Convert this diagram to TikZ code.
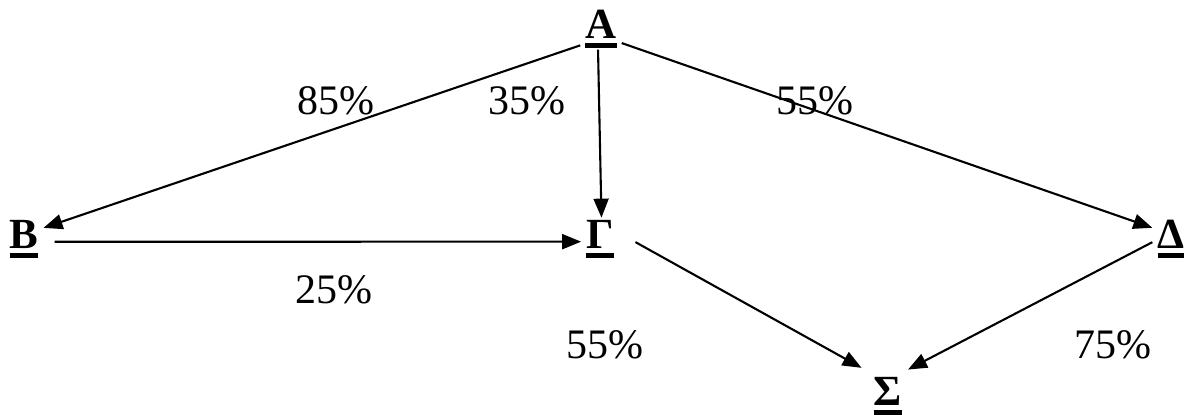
\documentclass[tikz,border=0pt]{standalone}
\usepackage{fontspec}
\setmainfont{Liberation Serif}
\usetikzlibrary{arrows.meta}
\newcommand{\ulvtx}[1]{\vtop{\hbox{#1}\kern5pt\hrule height 4.5pt}}

\begin{document}
\begin{tikzpicture}[x=1pt,y=-1pt,
  vtx/.style={font=\fontsize{43}{50}\selectfont\bfseries,anchor=base,inner xsep=5pt,inner ysep=2pt},
  pct/.style={font=\fontsize{42}{50}\selectfont,anchor=base,inner sep=0pt},
  link/.style={-{Triangle[length=19pt,width=15pt]},line width=2.1pt}]
\useasboundingbox (0,0) rectangle (1187,415);
% vertices
\node[vtx] (A) at (601,38) {\ulvtx{Α}};
\node[vtx] (B) at (24,248) {\ulvtx{Β}};
\node[vtx] (G) at (600,248) {\ulvtx{Γ}};
\node[vtx] (D) at (1171,248) {\ulvtx{Δ}};
\node[vtx] (S) at (888,405) {\ulvtx{Σ}};
% edges
\draw[link] (A.219) -- (B.29);
\draw[link] (A.262) -- (G.86);
\draw[link] (A.325) -- (D.150);
\draw[link,shorten <=11pt] ([yshift=-3pt]B.east) -- ([yshift=-3pt]G.west);
\draw[link,shorten <=19pt,shorten >=14pt] (G.17) -- (S.124);
\draw[link,shorten >=11pt] (D.191) -- (S.64);
% percentages
\node[pct] (pAB) at (336,114) {85\%};
\node[pct] (pAG) at (527,114) {35\%};
\node[pct] (pAD) at (815,114) {55\%};
\node[pct] (pBG) at (334,303) {25\%};
\node[pct] (pGS) at (605,358) {55\%};
\node[pct] (pDS) at (1113,358) {75\%};
\end{tikzpicture}
\end{document}
